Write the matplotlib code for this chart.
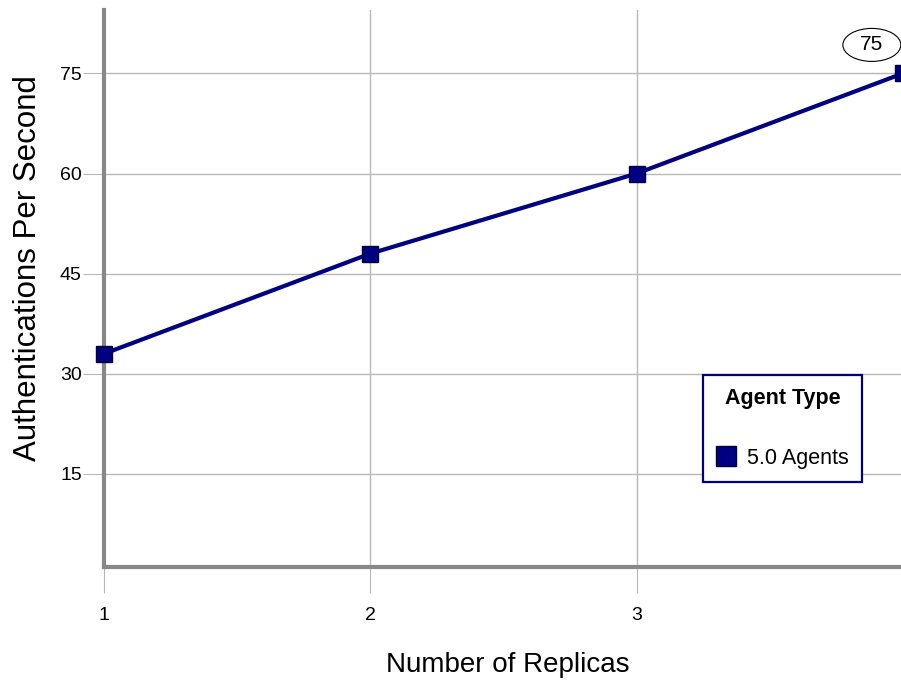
import matplotlib
matplotlib.use("Agg")
import matplotlib.pyplot as plt
import matplotlib.transforms as mtransforms
from matplotlib.patches import Ellipse

# Data
replicas = [1, 2, 3, 4]
auth_per_sec = [33, 48, 60, 75]
x_ticks = [1, 2, 3]
y_ticks = [15, 30, 45, 60, 75]

NAVY = "#000080"
SPINE = "#888888"
GRID = "#b8b8b8"

plt.rcParams["font.family"] = ["Liberation Sans", "DejaVu Sans"]

fig = plt.figure(figsize=(9.01, 6.81), dpi=100)
ax = fig.add_axes([104 / 901, 114 / 681, 797 / 901, 557 / 681])

ax.plot(
    replicas,
    auth_per_sec,
    color=NAVY,
    linewidth=3,
    marker="s",
    markersize=11,
    markerfacecolor=NAVY,
    markeredgecolor="#000040",
    markeredgewidth=1,
    clip_on=False,
    zorder=5,
    label="5.0 Agents"
)

# Value label on the last point (ellipse offset in inches from the point)
point_trans = fig.dpi_scale_trans + mtransforms.ScaledTranslation(
    replicas[-1], auth_per_sec[-1], ax.transData
)
ell = Ellipse(
    (-0.31, 0.285), 0.58, 0.33,
    transform=point_trans,
    facecolor="white",
    edgecolor="black",
    linewidth=0.8,
    clip_on=False,
    zorder=6
)
ax.add_patch(ell)
ax.annotate(
    f"{auth_per_sec[-1]}",
    xy=(replicas[-1], auth_per_sec[-1]),
    xytext=(-22.3, 20.5),
    textcoords="offset points",
    ha="center",
    va="center",
    fontsize=15,
    annotation_clip=False,
    zorder=7
)

ax.set_xlim(1, 3.993)
ax.set_ylim(1.05, 84.5)
ax.set_xticks(x_ticks)
ax.set_yticks(y_ticks)

ax.grid(True, color=GRID, linewidth=1)
ax.set_axisbelow(True)

for side in ["top", "right"]:
    ax.spines[side].set_visible(False)
for side in ["left", "bottom"]:
    ax.spines[side].set_color(SPINE)
    ax.spines[side].set_linewidth(3)

ax.tick_params(axis="x", length=19, width=0.8, color=GRID, pad=10, labelsize=14)
ax.tick_params(axis="y", length=15, width=0.8, color=GRID, pad=1, labelsize=14)

ax.set_xlabel("Number of Replicas", fontsize=20)
ax.set_ylabel("Authentications Per Second", fontsize=22.5)
ax.xaxis.set_label_coords(0.506, -0.153)
ax.yaxis.set_label_coords(-0.077, 0.537)

leg = ax.legend(
    title="Agent Type",
    loc="upper left",
    bbox_to_anchor=((703 - 104) / 797, (681 - 375 - 114) / 557),
    borderaxespad=0,
    fontsize=15.5,
    title_fontproperties={"weight": "bold", "size": 15.5},
    frameon=True,
    fancybox=False,
    framealpha=1,
    markerscale=1.3,
    handlelength=0.9,
    handletextpad=0.55,
    borderpad=0.6,
    labelspacing=0.5
)
leg.get_frame().set_edgecolor(NAVY)
leg.get_frame().set_linewidth(1.6)
leg._legend_box.sep = 28
for h in leg.legend_handles:
    h.set_linestyle("none")

fig.savefig("out.png", dpi=100)
